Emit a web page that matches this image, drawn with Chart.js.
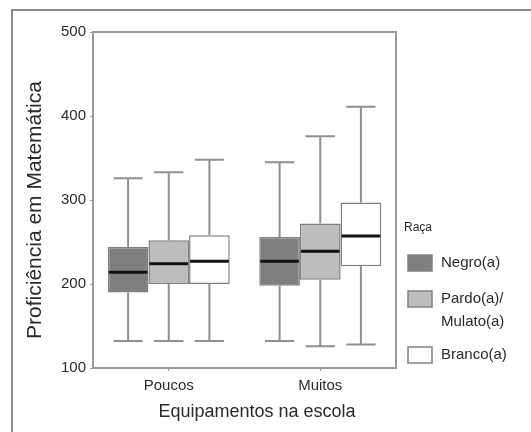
<!DOCTYPE html>
<html>
<head>
<meta charset="utf-8">
<script src="https://cdn.jsdelivr.net/npm/chart.js@4"></script>
<style>
  body { margin: 0; background: #fff; }
  #wrap { position: relative; width: 531px; height: 432px; overflow: hidden; }
  #frame { position: absolute; left: 11px; top: 9px; width: 600px; height: 500px;
           border-left: 2px solid #8a8a8a; border-top: 2px solid #8a8a8a; pointer-events: none; }
</style>
</head>
<body>
<div id="wrap">
  <canvas id="c" width="531" height="432"></canvas>
  <div id="frame"></div>
</div>
<script>
// categorias e séries
const categories = ["Poucos", "Muitos"];
const racas = ["Negro(a)", "Pardo(a)/\nMulato(a)", "Branco(a)"];
const fills = ["#7f7f7f", "#bdbdbd", "#ffffff"];

// estatísticas do boxplot por raça: [Poucos, Muitos]
const minimos  = [[132, 132], [132, 126], [132, 128]];
const q1s      = [[190, 198], [200, 205], [200, 221]];
const medianas = [[214, 227], [224, 239], [227, 257]];
const q3s      = [[244, 256], [252, 272], [258, 297]];
const maximos  = [[326, 345], [333, 376], [348, 411]];

const yTicks = [100, 200, 300, 400, 500];

const FONT = "'Liberation Sans', Arial, sans-serif";
const GRAY = "#999999";

const datasets = racas.map((r, i) => ({
  label: r,
  data: categories.map((c, j) => [q1s[i][j], q3s[i][j]]),
  backgroundColor: fills[i],
  borderColor: "#808080",
  borderWidth: 1.5,
  borderSkipped: false,
  categoryPercentage: 0.805,
  barPercentage: 1.0
}));

// bigodes, medianas, títulos e legenda
const boxPlugin = {
  id: "boxplot",
  afterDatasetsDraw(chart) {
    const ctx = chart.ctx;
    const y = chart.scales.y;
    ctx.save();
    chart.data.datasets.forEach((ds, i) => {
      const meta = chart.getDatasetMeta(i);
      meta.data.forEach((bar, j) => {
        const x = bar.x, w = bar.width;
        const cap = w * 0.36;
        ctx.strokeStyle = "#8f8f8f";
        ctx.lineWidth = 2;
        ctx.beginPath();
        ctx.moveTo(x, y.getPixelForValue(q3s[i][j]));
        ctx.lineTo(x, y.getPixelForValue(maximos[i][j]));
        ctx.moveTo(x - cap, y.getPixelForValue(maximos[i][j]));
        ctx.lineTo(x + cap, y.getPixelForValue(maximos[i][j]));
        ctx.moveTo(x, y.getPixelForValue(q1s[i][j]));
        ctx.lineTo(x, y.getPixelForValue(minimos[i][j]));
        ctx.moveTo(x - cap, y.getPixelForValue(minimos[i][j]));
        ctx.lineTo(x + cap, y.getPixelForValue(minimos[i][j]));
        ctx.stroke();
        // mediana
        ctx.strokeStyle = "#111";
        ctx.lineWidth = 3;
        ctx.beginPath();
        ctx.moveTo(x - w / 2 + 1, y.getPixelForValue(medianas[i][j]));
        ctx.lineTo(x + w / 2 - 1, y.getPixelForValue(medianas[i][j]));
        ctx.stroke();
      });
    });
    ctx.restore();
  },
  afterDraw(chart) {
    const ctx = chart.ctx;
    const a = chart.chartArea;
    ctx.save();
    // moldura da área do gráfico
    ctx.strokeStyle = GRAY;
    ctx.lineWidth = 2;
    ctx.strokeRect(a.left, a.top, a.right - a.left, a.bottom - a.top);

    // títulos dos eixos
    ctx.fillStyle = "#2a2a2a";
    ctx.textAlign = "center";
    ctx.textBaseline = "middle";
    ctx.font = "18px " + FONT;
    ctx.fillText("Equipamentos na escola", 257, 412);
    ctx.save();
    ctx.translate(35, 210);
    ctx.rotate(-Math.PI / 2);
    ctx.font = "21px " + FONT;
    ctx.fillText("Proficiência em Matemática", 0, 0);
    ctx.restore();

    // legenda
    ctx.textAlign = "left";
    ctx.font = "12px " + FONT;
    ctx.fillText("Raça", 404, 228);
    const boxY = [255, 291, 347];
    ctx.font = "15px " + FONT;
    chart.data.datasets.forEach((ds, i) => {
      ctx.fillStyle = ds.backgroundColor;
      ctx.fillRect(408, boxY[i], 24, 16);
      ctx.strokeStyle = "#808080";
      ctx.lineWidth = 1.5;
      ctx.strokeRect(408, boxY[i], 24, 16);
      ctx.fillStyle = "#2a2a2a";
      ds.label.split("\n").forEach((line, k) => {
        ctx.fillText(line, 441, boxY[i] + 8 + k * 23);
      });
    });
    ctx.restore();
  }
};

new Chart(document.getElementById("c"), {
  type: "bar",
  data: { labels: categories, datasets },
  options: {
    responsive: false,
    animation: false,
    layout: { padding: { left: 0, top: 32, right: 135, bottom: 0 } },
    plugins: { legend: { display: false }, tooltip: { enabled: false } },
    scales: {
      x: {
        offset: true,
        grid: { offset: false, drawOnChartArea: false, tickLength: 3, color: GRAY },
        border: { color: GRAY, width: 2 },
        ticks: { color: "#2a2a2a", font: { family: FONT, size: 15 }, padding: 6 },
        afterFit: s => { s.height = 64; }
      },
      y: {
        min: 100, max: 500,
        afterBuildTicks: s => { s.ticks = yTicks.map(v => ({ value: v })); },
        grid: { drawOnChartArea: false, tickLength: 3, color: GRAY },
        border: { color: GRAY, width: 2 },
        ticks: { color: "#2a2a2a", font: { family: FONT, size: 15 }, padding: 4 },
        afterFit: s => { s.width = 93; }
      }
    }
  },
  plugins: [boxPlugin]
});
</script>
</body>
</html>
